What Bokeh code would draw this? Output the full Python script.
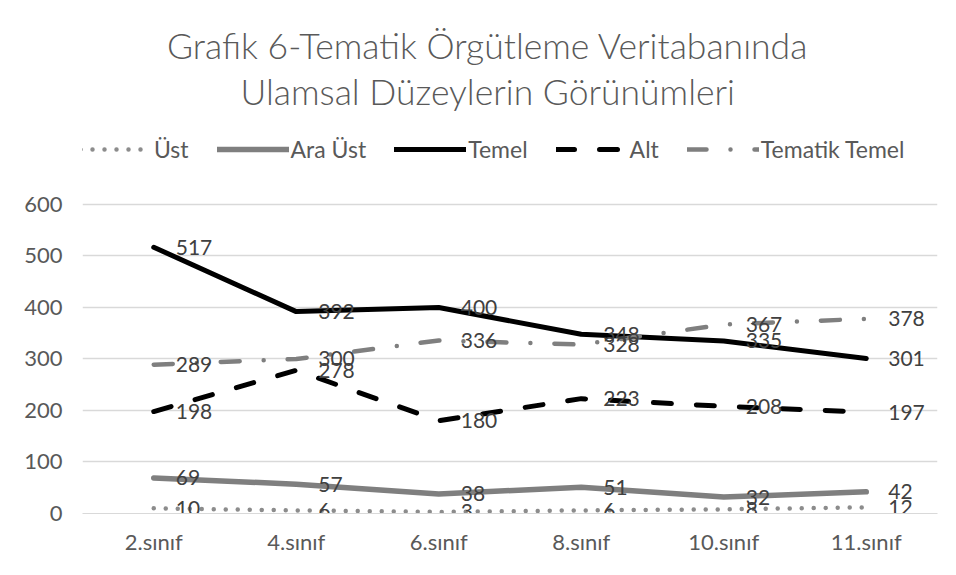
from bokeh.plotting import figure
from bokeh.models import (FactorRange, Range1d, FixedTicker, Legend, LegendItem,
                          Label, ColumnDataSource)
from bokeh.embed import file_html
from bokeh.resources import INLINE
from bokeh.core.properties import value

categories = ["2.sınıf", "4.sınıf", "6.sınıf", "8.sınıf", "10.sınıf", "11.sınıf"]
ust = [10, 6, 3, 6, 8, 12]
ara_ust = [69, 57, 38, 51, 32, 42]
temel = [517, 392, 400, 348, 335, 301]
alt = [198, 278, 180, 223, 208, 197]
tematik_temel = [289, 300, 336, 328, 367, 378]
y_ticks = [0, 100, 200, 300, 400, 500, 600]

title_lines = ["Grafik 6-Tematik Örgütleme Veritabanında",
               "Ulamsal Düzeylerin Görünümleri"]

FONT = "Lato"
TITLE_FONT = "Lato Light, Lato"

p = figure(width=956, height=575, output_backend="svg", toolbar_location=None,
           x_range=FactorRange(factors=categories, range_padding=0),
           y_range=Range1d(0, 996.1),
           min_border_left=82, min_border_right=19, min_border_top=0,
           min_border_bottom=62)
p.outline_line_color = None
p.background_fill_color = "white"
p.border_fill_color = "white"

# axes
p.xaxis.axis_line_color = "#d9d9d9"
p.xaxis.major_tick_line_color = None
p.xaxis.minor_tick_line_color = None
p.xaxis.major_label_text_font = FONT
p.xaxis.major_label_text_font_size = "22px"
p.xaxis.major_label_text_color = "#595959"
p.xaxis.major_label_standoff = 8

p.yaxis.ticker = FixedTicker(ticks=y_ticks)
p.yaxis.bounds = (0, 600)
p.yaxis.axis_line_color = None
p.yaxis.major_tick_line_color = None
p.yaxis.minor_tick_line_color = None
p.yaxis.major_label_text_font = FONT
p.yaxis.major_label_text_font_size = "22px"
p.yaxis.major_label_text_color = "#595959"
p.yaxis.major_label_standoff = 14

p.xgrid.grid_line_color = None
p.ygrid.ticker = FixedTicker(ticks=y_ticks)
p.ygrid.bounds = (0, 600)
p.ygrid.grid_line_color = "#d9d9d9"
p.ygrid.grid_line_width = 1.3

series = [
    ("Üst", ust, dict(line_color="#8c8c8c", line_width=4.5, line_dash="0 12", line_cap="round")),
    ("Ara Üst", ara_ust, dict(line_color="#7f7f7f", line_width=5.5, line_cap="round", line_join="round")),
    ("Temel", temel, dict(line_color="#000000", line_width=5, line_cap="round", line_join="round")),
    ("Alt", alt, dict(line_color="#000000", line_width=5, line_dash="18 25", line_cap="round")),
    ("Tematik Temel", tematik_temel, dict(line_color="#7f7f7f", line_width=4.5, line_dash="19 24 0 24", line_cap="round")),
]

items = []
for name, vals, style in series:
    src = ColumnDataSource(dict(x=categories, y=vals, t=[str(v) for v in vals]))
    r = p.line("x", "y", source=src, **style)
    items.append(LegendItem(label=name, renderers=[r]))

for name, vals, style in series:
    src = ColumnDataSource(dict(x=categories, y=vals, t=[str(v) for v in vals]))
    p.text("x", "y", text="t", source=src, x_offset=22, text_baseline="middle",
           text_align="left", text_font=value(FONT), text_font_size="21px",
           text_color="#404040")

legend = Legend(items=items, orientation="horizontal", location=(-2, 350),
                glyph_width=72, glyph_height=22, label_height=22,
                label_standoff=2, spacing=28, padding=0, margin=0,
                label_text_font=FONT, label_text_font_size="23px",
                label_text_color="#595959",
                border_line_color=None, background_fill_alpha=0)
p.add_layout(legend, "center")

p.add_layout(Label(x=2.844, y=908.7, text=title_lines[0], text_align="center",
                   text_baseline="middle", text_font=TITLE_FONT, text_font_size="35.5px",
                   text_color="#595959"))
p.add_layout(Label(x=2.844, y=819.4, text=title_lines[1], text_align="center",
                   text_baseline="middle", text_font=TITLE_FONT, text_font_size="35.5px",
                   text_color="#595959"))

open("out.html", "w").write(file_html(p, INLINE))
